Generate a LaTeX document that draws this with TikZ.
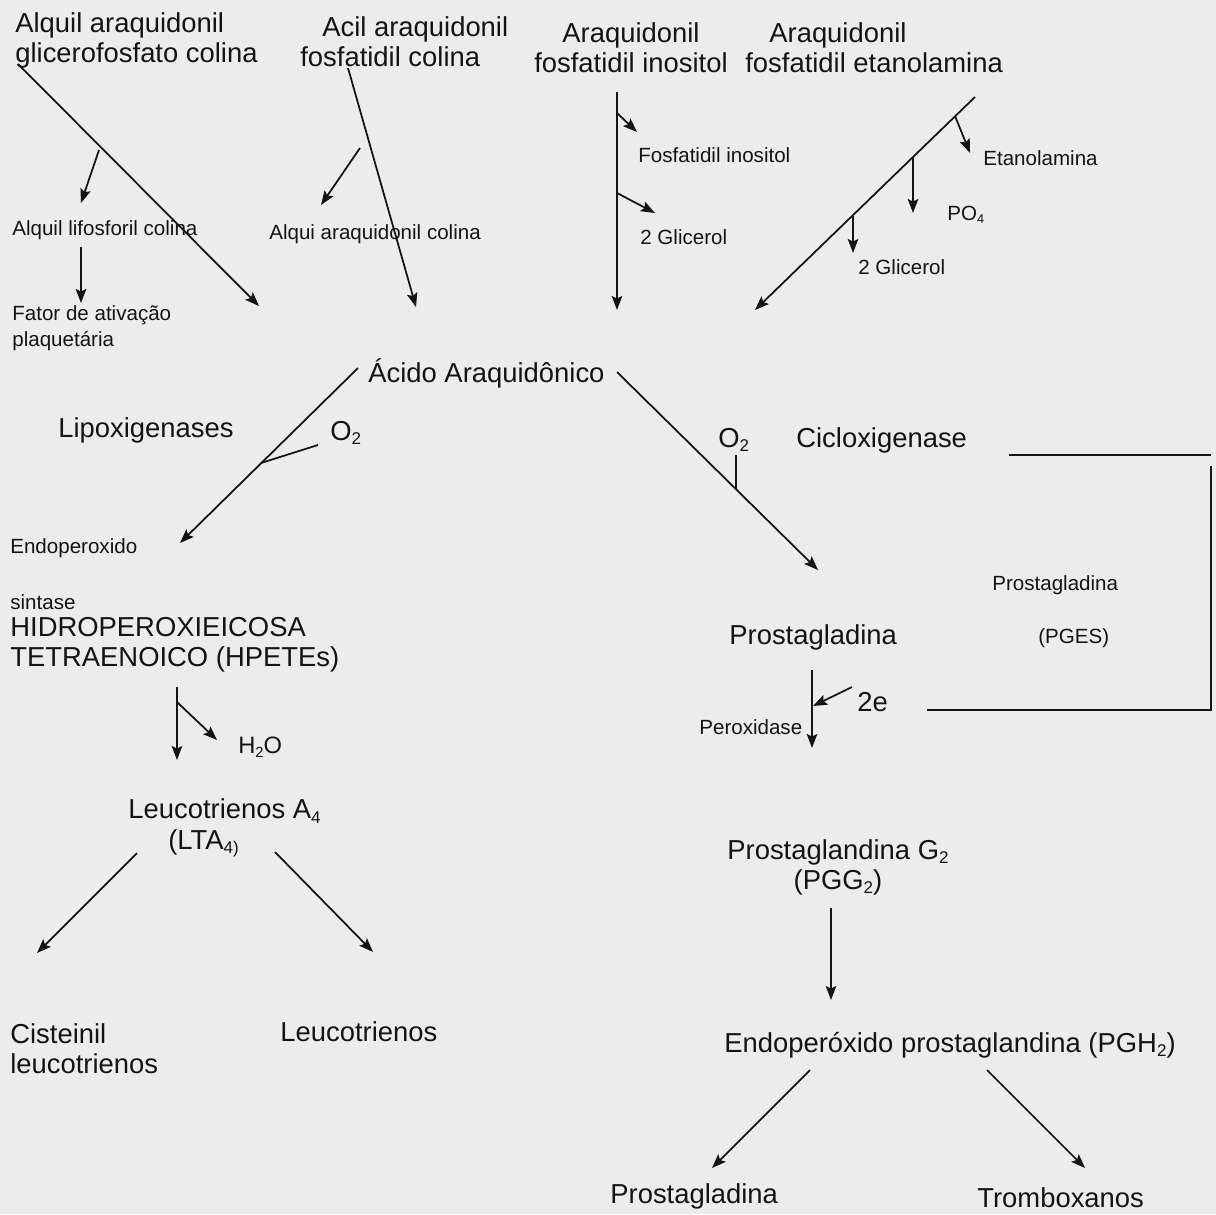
\documentclass[tikz,border=0pt]{standalone}
\usepackage{fontspec}
\usepackage{graphicx}
\setmainfont{Liberation Sans}
\usetikzlibrary{arrows.meta}
\definecolor{paper}{RGB}{236,236,236}
\definecolor{ink}{RGB}{20,20,20}
\newcommand{\lowidx}[1]{\raisebox{-0.3ex}{\scalebox{0.62}{#1}}}
\begin{document}
\begin{tikzpicture}[x=0.02cm, y=-0.02cm,
    big/.style={font=\fontsize{15.6}{17.1}\selectfont, inner sep=0pt, text=ink},
    small/.style={font=\fontsize{11.7}{14.8}\selectfont, inner sep=0pt, text=ink},
    mid/.style={font=\fontsize{13.5}{16}\selectfont, inner sep=0pt, text=ink},
    arr/.style={draw=ink, line width=1pt, -{Stealth[length=8pt, width=6pt, inset=1.5pt]}},
    ln/.style={draw=ink, line width=1pt}]
     \fill[paper] (0, 0) rectangle (1216, 1214);
         \node[big, anchor=west, align=left] (aagc) at (15, 40){Alquil araquidonil\\glicerofosfato colina};
         \node[big, anchor=west, align=left] (aafc) at (300, 42){\hspace*{0.44cm}Acil araquidonil\\fosfatidil colina};
         \node[big, align=center] (afi) at (631, 48){Araquidonil\\fosfatidil inositol};
         \node[big, anchor=west, align=left] (afe) at (745, 48){\hspace*{0.48cm}Araquidonil\\fosfatidil etanolamina};
             \node[small, anchor=west] (alc) at (12, 230){Alquil lifosforil colina};
             \node[small, anchor=west] (aac) at (269, 234){Alqui araquidonil colina};
             \node[small, anchor=west, align=left] (fap) at (12, 328){Fator de ativação\\plaquetária};
             \node[small, anchor=west] (fi) at (638, 155){Fosfatidil inositol};
             \node[small, anchor=west] (gli1) at (640, 237){2 Glicerol};
             \node[small, anchor=west] (eta) at (983, 158){Etanolamina};
             \node[small, anchor=west] (po) at (947, 215){PO\lowidx{4}};
             \node[small, anchor=west] (gli2) at (858, 267){2 Glicerol};
         \node[big, anchor=west] (aa) at (368, 373){Ácido Araquidônico};
         \node[big, anchor=west] (lip) at (58, 430){Lipoxigenases};
         \node[big, anchor=west] (oxa) at (330, 433){O\lowidx{2}};
         \node[big, anchor=west] (oxb) at (718, 440){O\lowidx{2}};
         \node[big, anchor=west] (cox) at (796, 440){Cicloxigenase};
             \node[small, anchor=west] (endo) at (10, 548){Endoperoxido};
             \node[small, anchor=west] (sin) at (10, 602){sintase};
         \node[big, anchor=west, align=left] (hpete) at (10, 645){HIDROPEROXIEICOSA\\TETRAENOICO (HPETEs)};
         \node[big, anchor=west] (pg) at (729, 637){Prostagladina};
             \node[small, anchor=west] (pges) at (992, 585){Prostagladina};
             \node[small, anchor=west] (pgesb) at (1038, 638){(PGES)};
         \node[big, anchor=west] (twoe) at (857, 702){2e};
             \node[small, anchor=west] (perox) at (699, 727){Peroxidase};
             \node[mid, anchor=west] (water) at (238, 747){H\lowidx{2}O};
         \node[big, anchor=west, align=left] (lta) at (128, 828){Leucotrienos A\lowidx{4}\\\hspace*{0.8cm}(LTA\lowidx{4)}};
         \node[big, align=center] (pgg) at (838, 867){Prostaglandina G\lowidx{2}\\(PGG\lowidx{2})};
         \node[big, anchor=west, align=left] (cist) at (10, 1049){Cisteinil\\leucotrienos};
         \node[big, anchor=west] (leu) at (280, 1032){Leucotrienos};
         \node[big, anchor=west] (pgh) at (724, 1045){Endoperóxido prostaglandina (PGH\lowidx{2})};
         \node[big, anchor=west] (pgl) at (610, 1196){Prostagladina};
         \node[big, anchor=west] (trx) at (977, 1198){Tromboxanos};
     \coordinate (c1s) at (18, 64); \coordinate (c1e) at (259, 306);
     \coordinate (c1a) at (99, 150); \coordinate (c1b) at (81, 203);
     \coordinate (c1c) at (81, 247); \coordinate (c1d) at (81, 303);
     \coordinate (c2s) at (348, 68); \coordinate (c2e) at (416, 307);
     \coordinate (c2a) at (360, 148); \coordinate (c2b) at (321, 205);
     \coordinate (c3s) at (617, 92); \coordinate (c3e) at (617, 310);
     \coordinate (c3a) at (617, 113); \coordinate (c3b) at (637, 132);
     \coordinate (c3c) at (617, 193); \coordinate (c3d) at (655, 213);
     \coordinate (c4s) at (975, 97); \coordinate (c4e) at (755, 310);
     \coordinate (c4a) at (955, 116); \coordinate (c4b) at (970, 153);
     \coordinate (c4c) at (913, 157); \coordinate (c4d) at (913, 213);
     \coordinate (c4f) at (853, 216); \coordinate (c4g) at (853, 253);
     \coordinate (l1s) at (358, 368); \coordinate (l1e) at (180, 543);
     \coordinate (l1a) at (318, 445); \coordinate (l1b) at (261, 463);
     \coordinate (r1s) at (617, 372); \coordinate (r1e) at (818, 570);
     \coordinate (r1a) at (736, 455); \coordinate (r1b) at (736, 489);
     \coordinate (bx1) at (1009, 455); \coordinate (bx2) at (1211, 455);
     \coordinate (bx3) at (1211, 466); \coordinate (bx4) at (1211, 710);
     \coordinate (bx5) at (927, 710);
     \coordinate (p1s) at (812, 670); \coordinate (p1e) at (812, 748);
     \coordinate (p1a) at (852, 687); \coordinate (p1b) at (813, 706);
     \coordinate (h1s) at (177, 687); \coordinate (h1e) at (177, 760);
     \coordinate (h1a) at (177, 702); \coordinate (h1b) at (217, 740);
     \coordinate (t1s) at (137, 853); \coordinate (t1e) at (37, 953);
     \coordinate (t2s) at (275, 852); \coordinate (t2e) at (373, 952);
     \coordinate (g1s) at (831, 908); \coordinate (g1e) at (831, 1000);
     \coordinate (k1s) at (810, 1070); \coordinate (k1e) at (712, 1168);
     \coordinate (k2s) at (987, 1070); \coordinate (k2e) at (1085, 1168);
         \draw[arr](c1s) to (c1e);
             \draw[arr](c1a) to (c1b);
             \draw[arr](c1c) to (c1d);
         \draw[arr](c2s) to (c2e);
             \draw[arr](c2a) to (c2b);
         \draw[arr](c3s) to (c3e);
             \draw[arr](c3a) to (c3b);
             \draw[arr](c3c) to (c3d);
         \draw[arr](c4s) to (c4e);
             \draw[arr](c4a) to (c4b);
             \draw[arr](c4c) to (c4d);
             \draw[arr](c4f) to (c4g);
         \draw[arr](l1s) to (l1e);
             \draw[ln](l1a) to (l1b);
         \draw[arr](r1s) to (r1e);
             \draw[ln](r1a) to (r1b);
         \draw[ln](bx1) to (bx2);
         \draw[ln](bx3) -- (bx4) -- (bx5);
         \draw[arr](p1s) to (p1e);
             \draw[arr](p1a) to (p1b);
         \draw[arr](h1s) to (h1e);
             \draw[arr](h1a) to (h1b);
         \draw[arr](t1s) to (t1e);
         \draw[arr](t2s) to (t2e);
         \draw[arr](g1s) to (g1e);
         \draw[arr](k1s) to (k1e);
         \draw[arr](k2s) to (k2e);
\end{tikzpicture}
\end{document}
